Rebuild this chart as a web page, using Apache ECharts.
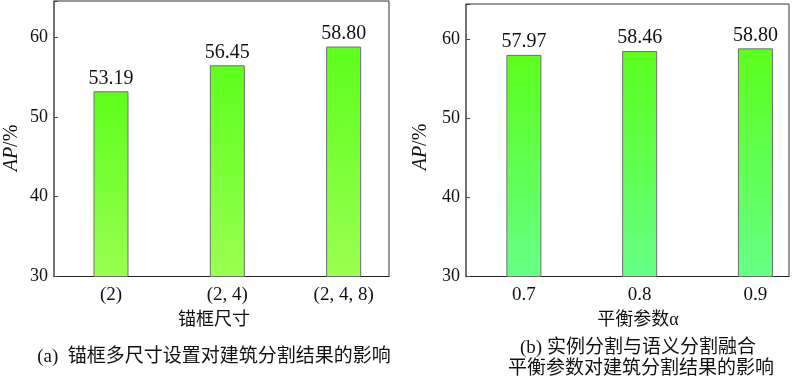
<!DOCTYPE html>
<html>
<head>
<meta charset="utf-8">
<script src="https://cdn.jsdelivr.net/npm/echarts@6/dist/echarts.min.js"></script>
<style>html,body{margin:0;padding:0;background:#fff;}#c{width:800px;height:381px;}</style>
</head>
<body>
<div id="c"></div>
<script>
const catsA = ['(2)', '(2, 4)', '(2, 4, 8)'];
const valsA = [53.19, 56.45, 58.80];
const catsB = ['0.7', '0.8', '0.9'];
const valsB = [57.97, 58.46, 58.80];
const yTicks = [30, 40, 50, 60];

const FONT = '"Liberation Serif", "Times New Roman", "Noto Sans CJK SC", serif';
const CJK = '"Liberation Serif", "Noto Sans CJK SC", serif';

const chart = echarts.init(document.getElementById('c'), null, {renderer: 'canvas'});

function xAxisFor(idx, cats, min, max) {
  return {
    type: 'value', gridIndex: idx, min: min, max: max,
    axisLine: {show: true, onZero: false, lineStyle: {color: '#222', width: 1}},
    axisTick: {show: true, inside: true, length: 5, customValues: [0, 1, 2], lineStyle: {color: '#333'}},
    axisLabel: {customValues: [0, 1, 2], formatter: v => cats[Math.round(v)], color: '#111', fontSize: 19, fontFamily: FONT, margin: 9},
    splitLine: {show: false}
  };
}
function yAxisFor(idx, max) {
  return {
    type: 'value', gridIndex: idx, min: yTicks[0], max: max, interval: 10,
    axisLine: {show: true, onZero: false, lineStyle: {color: '#666', width: 1.5}},
    axisTick: {show: true, inside: true, length: 4, lineStyle: {color: '#444'}},
    axisLabel: {color: '#111', fontSize: 18, fontFamily: FONT, margin: 6,
      formatter: v => (yTicks.indexOf(v) >= 0 ? String(v) : '')},
    splitLine: {show: false}
  };
}
function grad(bottom) {
  return new echarts.graphic.LinearGradient(0, 0, 0, 1, [
    {offset: 0, color: '#5dff1c'},
    {offset: 1, color: bottom}
  ]);
}
function barSeries(idx, vals, bottom) {
  return {
    type: 'bar', xAxisIndex: idx, yAxisIndex: idx, barWidth: 35,
    data: vals.map((v, i) => [i, v]),
    itemStyle: {color: grad(bottom), borderColor: '#6f6f6f', borderWidth: 1},
    label: {show: true, position: 'top', distance: 3, color: '#111', fontSize: 20, fontFamily: FONT,
      formatter: p => p.value[1].toFixed(2)}
  };
}

chart.setOption({
  animation: false,
  grid: [
    {left: 54, top: 1, width: 335, height: 275.5, show: true, borderColor: '#333', borderWidth: 1, containLabel: false},
    {left: 466, top: 4, width: 323, height: 272.5, show: true, borderColor: '#333', borderWidth: 1, containLabel: false}
  ],
  xAxis: [xAxisFor(0, catsA, -0.49, 2.39), xAxisFor(1, catsB, -0.50, 2.29)],
  yAxis: [yAxisFor(0, 64.5), yAxisFor(1, 64.4)],
  series: [barSeries(0, valsA, '#9aff52'), barSeries(1, valsB, '#66ff88')],
  graphic: [
    {type: 'text', x: 12, y: 148, rotation: Math.PI / 2,
      style: {text: '{i|AP}/%', rich: {i: {fontStyle: 'italic', fontSize: 20, fontFamily: FONT, fill: '#111'}},
        font: '20px ' + FONT, fill: '#111', align: 'center', verticalAlign: 'middle'}},
    {type: 'text', x: 421, y: 147, rotation: Math.PI / 2,
      style: {text: '{i|AP}/%', rich: {i: {fontStyle: 'italic', fontSize: 20, fontFamily: FONT, fill: '#111'}},
        font: '20px ' + FONT, fill: '#111', align: 'center', verticalAlign: 'middle'}},
    {type: 'text', x: 214, y: 320,
      style: {text: '锚框尺寸', font: '18px ' + CJK, fill: '#111', align: 'center', verticalAlign: 'middle'}},
    {type: 'text', x: 638, y: 320,
      style: {text: '平衡参数α', font: '18px ' + CJK, fill: '#111', align: 'center', verticalAlign: 'middle'}},
    {type: 'text', x: 214, y: 357,
      style: {text: '(a)  锚框多尺寸设置对建筑分割结果的影响', font: '19px ' + CJK, fill: '#111', align: 'center', verticalAlign: 'middle'}},
    {type: 'text', x: 638, y: 348,
      style: {text: '(b) 实例分割与语义分割融合', font: '19px ' + CJK, fill: '#111', align: 'center', verticalAlign: 'middle'}},
    {type: 'text', x: 641, y: 369,
      style: {text: '平衡参数对建筑分割结果的影响', font: '19px ' + CJK, fill: '#111', align: 'center', verticalAlign: 'middle'}}
  ]
});
</script>
</body>
</html>
